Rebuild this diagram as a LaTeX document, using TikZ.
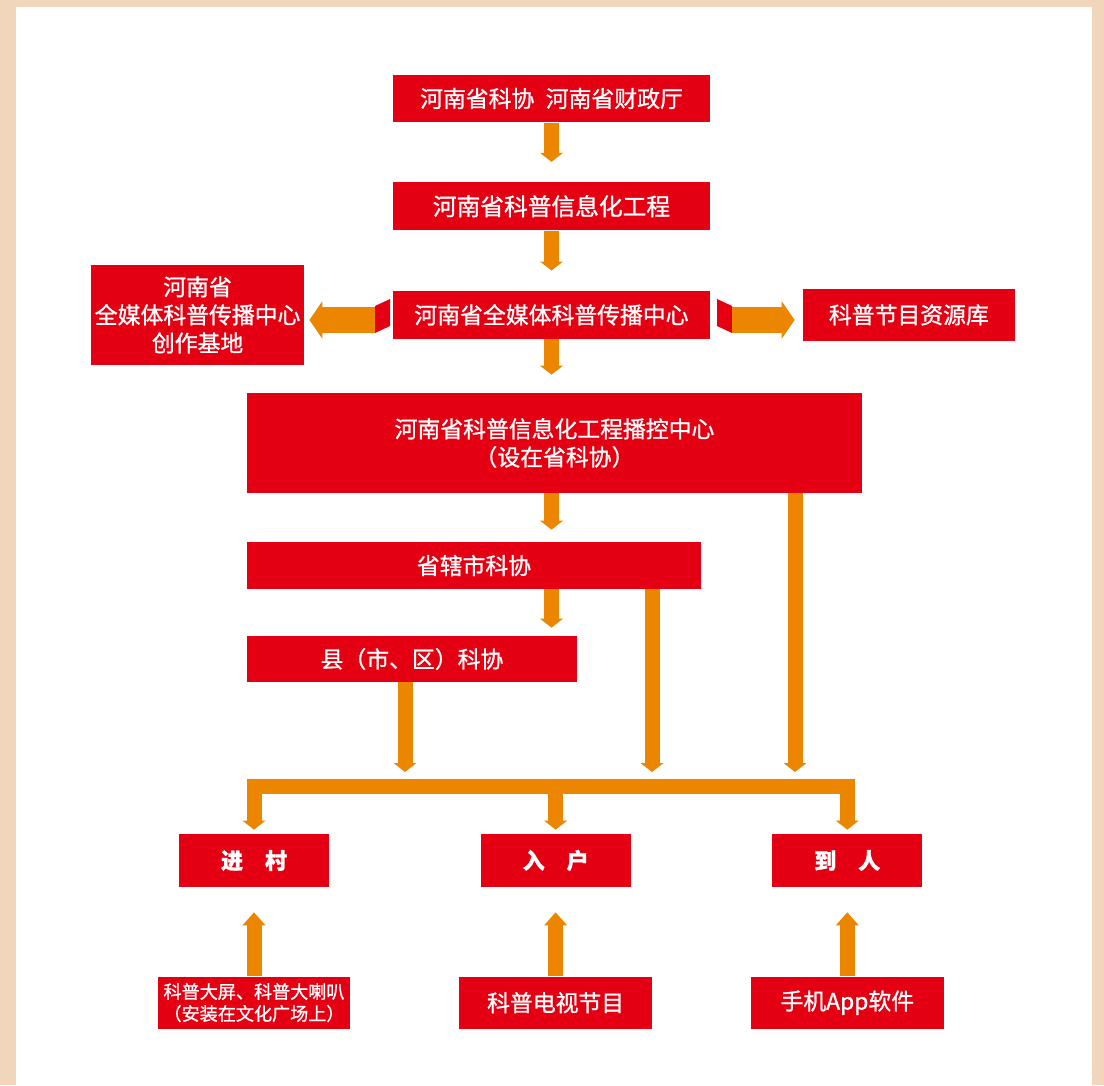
\documentclass[tikz,border=0pt]{standalone}
\usepackage{fontspec}
\setmainfont{Noto Sans CJK SC}[FakeBold=1]
\usetikzlibrary{positioning, arrows.meta}

\definecolor{hnred}{RGB}{228,0,18}
\definecolor{hnorange}{RGB}{236,134,0}
\definecolor{hnbeige}{RGB}{242,214,187}

\tikzset{
  blk/.tip={Triangle[width=0.46cm, length=0.18cm, line width=0pt]},
  blkup/.tip={Triangle[width=0.46cm, length=0.26cm, line width=0pt]},
  wide/.tip={Triangle[width=0.76cm, length=0.26cm, line width=0pt]},
}

\begin{document}
\begin{tikzpicture}[x=0.02cm, y=-0.02cm,
  box/.style={fill=hnred, text=white, inner sep=1pt, align=center,
    font=\fontsize{13}{16}\selectfont},
  col/.style={box, minimum width=6.35cm, minimum height=0.96cm},
  tag/.style={box, minimum width=3cm, minimum height=1.06cm,
    font=\fontsize{12.5}{15}\selectfont\bfseries},
  feed/.style={box, minimum width=3.86cm, minimum height=1.04cm},
  down/.style={draw=hnorange, line width=0.3cm, -blk},
  up/.style={draw=hnorange, line width=0.3cm, -blkup},
  side/.style={draw=hnorange, line width=0.52cm, -wide},
]
  % frame
  \fill[hnbeige] (0,0) rectangle (1104,1085);
  \fill[white] (16,7) rectangle (1092,1085);

  % main column
  \node[col] (fund) at (551.5,98.5) {河南省科协\hspace{0.5em}河南省财政厅};
  \node[col, below=1.18cm of fund, font=\fontsize{13.5}{16}\selectfont] (proj) {河南省科普信息化工程};
  \node[col, below=1.2cm of proj] (media) {河南省全媒体科普传播中心};
  \node[box, minimum width=12.3cm, minimum height=2cm] (prog) at (554.5,443)
    {河南省科普信息化工程播控中心\\（设在省科协）};
  \node[box, minimum width=9.08cm, minimum height=0.94cm] (city) at (474,565.5) {省辖市科协};
  \node[box, minimum width=6.6cm, minimum height=0.92cm] (county) at (412,659) {县（市、区）科协};

  % side boxes
  \node[box, minimum width=4.26cm, minimum height=2cm, left=1.76cm of media] (base)
    {河南省\\全媒体科普传播中心\\创作基地};
  \node[box, minimum width=4.24cm, minimum height=1.04cm, right=1.84cm of media] (lib) {科普节目资源库};

  % bottom rows
  \node[tag] (jin) at (254,860.5) {进\hspace{1em}村};
  \node[tag, right=3.02cm of jin] (ru) {入\hspace{1em}户};
  \node[tag, right=2.82cm of ru] (dao) {到\hspace{1em}人};
  \node[feed, below=1.78cm of jin, font=\fontsize{10.3}{12.5}\selectfont] (screen)
    {科普大屏、科普大喇叭\\（安装在文化广场上）};
  \node[feed, below=1.78cm of ru] (tv) {科普电视节目};
  \node[feed, below=1.78cm of dao] (app) {手机App软件};

  % free ends
  \coordinate (bus) at (550,786.5);
  \coordinate (tapA) at (405,772);
  \coordinate (tapB) at (652,772);
  \coordinate (tapC) at (795,772);
  \coordinate (foldL) at (375,320);
  \coordinate (foldR) at (732,320);

  % arrows
  \draw[down, shorten >=0.4cm] (fund) -- (proj);
  \draw[down, shorten >=0.4cm] (proj) -- (media);
  \draw[down, shorten >=0.36cm] (media.south) -- (media.south |- prog.north);
  \draw[down, shorten >=0.24cm] (prog.south -| media.south) -- (city.north -| media.south);
  \draw[down, shorten >=0.16cm] (city.south -| media.south) -- (county.north -| media.south);
  \draw[down] (county.south -| tapA) -- (tapA);
  \draw[down] (city.south -| tapB) -- (tapB);
  \draw[down] (prog.south -| tapC) -- (tapC);
  \draw[draw=hnorange, line width=0.3cm, blk-blk, shorten <=0.08cm, shorten >=0.08cm]
    (jin.north) -- (jin.north |- bus) -- (dao.north |- bus) -- (dao.north);
  \draw[down, shorten >=0.08cm] (ru.north |- bus) -- (ru.north);
  \draw[up, shorten >=0.5cm] (screen) -- (jin);
  \draw[up, shorten >=0.5cm] (tv) -- (ru);
  \draw[up, shorten >=0.5cm] (app) -- (dao);

  % folds
  \fill[hnred] (390,299) -- (375,306) -- (375,333) -- (390,326) -- cycle;
  \fill[hnred] (717,299) -- (732,306) -- (732,333) -- (717,326) -- cycle;
  \draw[side, shorten >=0.1cm] (foldL) -- (foldL -| base.east);
  \draw[side, shorten >=0.16cm] (foldR) -- (foldR -| lib.west);
\end{tikzpicture}
\end{document}
